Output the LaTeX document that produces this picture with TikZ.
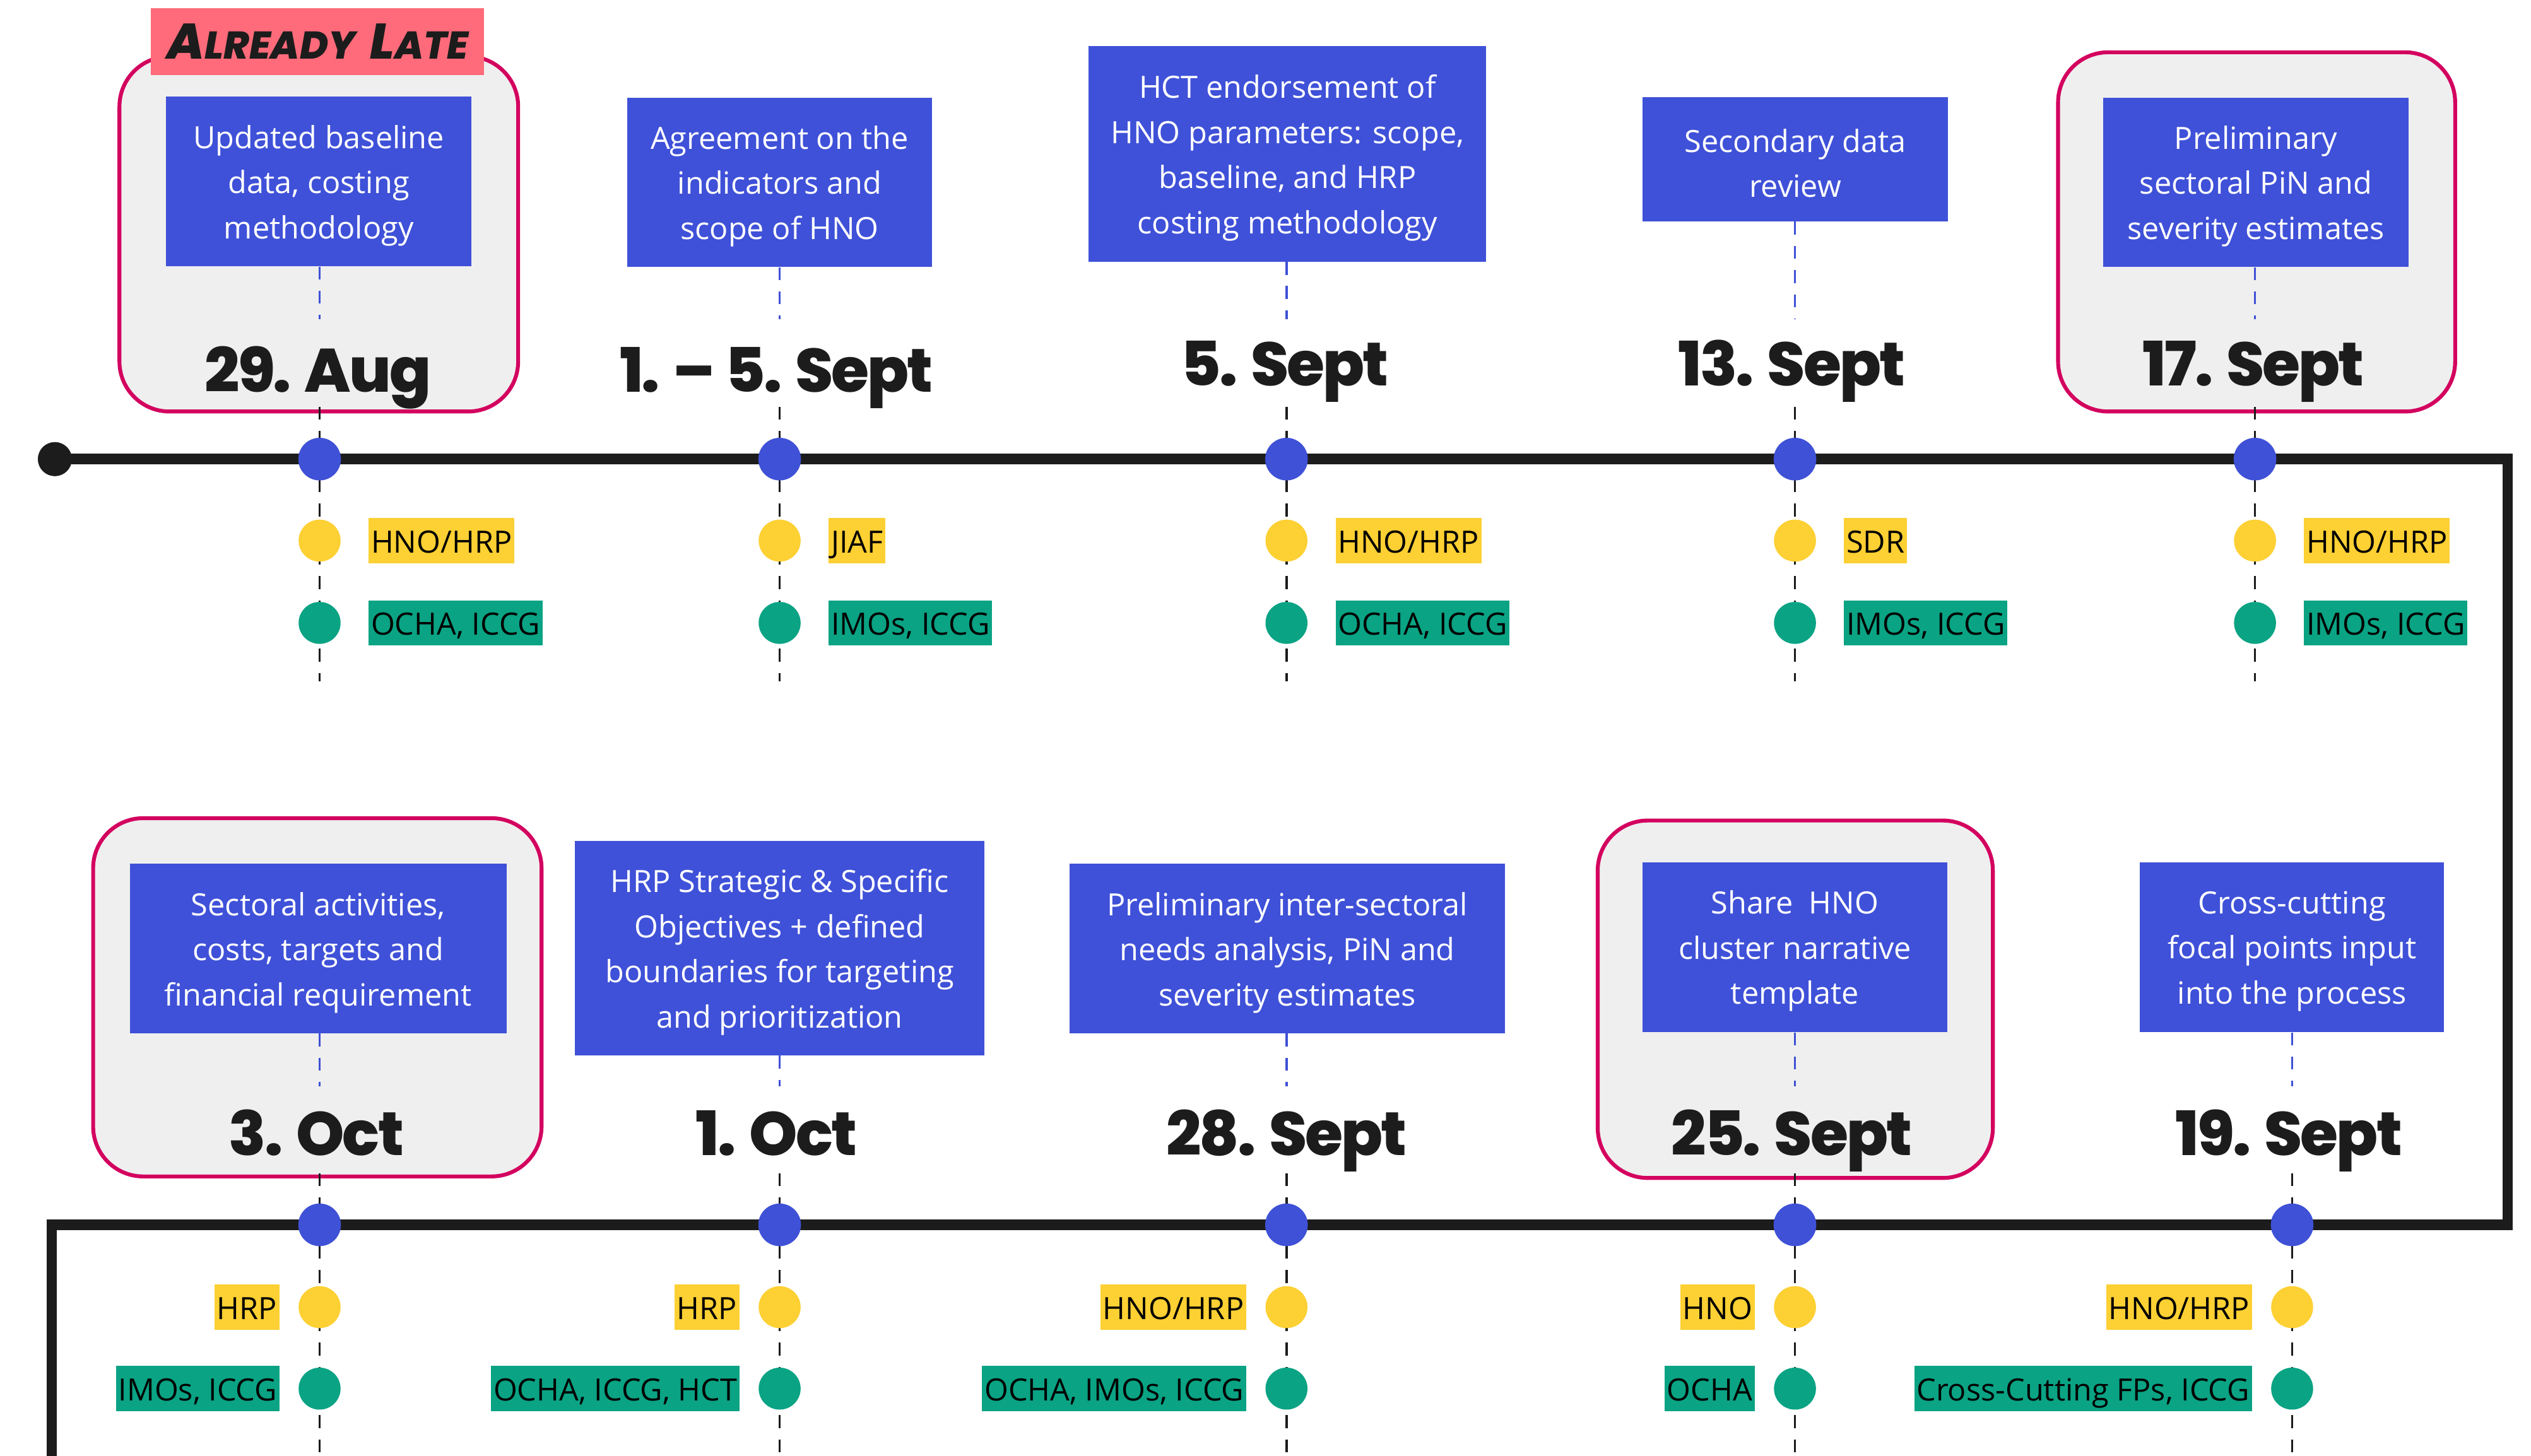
\documentclass[tikz,border=0pt]{standalone}
\usepackage{fontspec}
\usepackage{graphicx}
\setmainfont{Open Sans}
\newfontfamily\datefont{Poppins ExtraBold}[LetterSpace=-3]
\newfontfamily\tagfont{Poppins ExtraBold}
\definecolor{boxblue}{HTML}{3F51D8}
\definecolor{dotblue}{HTML}{3F51D6}
\definecolor{hlpink}{HTML}{D3025F}
\definecolor{hlgray}{HTML}{EFEFEF}
\definecolor{tagpink}{HTML}{FF6B7A}
\definecolor{ylw}{HTML}{FDD033}
\definecolor{grn}{HTML}{0AA384}
\definecolor{ink}{HTML}{1C1C1C}
\tikzset{
  evbox/.style={fill=boxblue, inner sep=0pt},
  evtext/.style={text=white, align=center, inner sep=0pt, yshift=-2.5pt,
    font=\fontsize{19}{28}\selectfont},
  hlbox/.style={fill=hlgray, draw=hlpink, line width=2.4pt, rounded corners=31pt, inner sep=0pt},
  tagbox/.style={fill=tagpink, inner sep=0pt, text=ink},
  datel/.style={anchor=base, text=ink, inner sep=0pt, font=\datefont\fontsize{38}{38}\selectfont},
  ylab/.style={fill=ylw, text=black, inner xsep=1.5pt, inner ysep=0pt, text height=21.5pt, text depth=6.5pt,
    font=\fontsize{19}{19}\selectfont},
  glab/.style={ylab, fill=grn},
  tline/.style={draw=ink, line width=6.5pt, miter limit=10},
  blkdash/.style={draw=ink, line width=1.4pt, dash pattern=on 8pt off 7pt},
  bluedash/.style={draw=dotblue, line width=1.4pt, dash pattern=on 8pt off 7pt},
  bdot/.style={circle, fill=dotblue, minimum size=26.4pt, inner sep=0pt},
  ydot/.style={circle, fill=ylw, minimum size=26pt, inner sep=0pt},
  gdot/.style={circle, fill=grn, minimum size=26pt, inner sep=0pt},
  sdot/.style={circle, fill=ink, minimum size=21pt, inner sep=0pt}
}
% top-row marks: #1 name, #2 x, #3 yellow text, #4 green text
\newcommand\evtopmarks[4]{%
  \coordinate (#1ds) at (#2,252);
  \coordinate (#1de) at (#2,422);
  \coordinate (#1be) at (#2,198);
  \draw[bluedash] (b#1.south -| #1ds) -- (#1be);
  \draw[blkdash] (#1ds) -- (#1de);
  \node[bdot] (p#1) at (#2,284.5) {};
  \node[ydot] (y#1) at (#2,335) {};
  \node[gdot] (g#1) at (#2,386) {};
  \node[ylab, anchor=west] (ly#1) at ([xshift=17pt]y#1.center -| y#1.east) {#3};
  \node[glab, anchor=west] (lg#1) at ([xshift=17pt]g#1.center -| g#1.east) {#4};
}
\newcommand\evbotmarks[4]{%
  \coordinate (#1ds) at (#2,727);
  \coordinate (#1de) at (#2,902);
  \coordinate (#1be) at (#2,673);
  \draw[bluedash] (b#1.south -| #1ds) -- (#1be);
  \draw[blkdash] (#1ds) -- (#1de);
  \node[bdot] (p#1) at (#2,759) {};
  \node[ydot] (y#1) at (#2,810) {};
  \node[gdot] (g#1) at (#2,860.5) {};
  \node[ylab, anchor=east] (ly#1) at ([xshift=-11.5pt]y#1.center -| y#1.west) {#3};
  \node[glab, anchor=east] (lg#1) at ([xshift=-11.5pt]g#1.center -| g#1.west) {#4};
}
% event box: #1 name, #2 centre, #3 width, #4 height, #5 text
\newcommand\evboxat[5]{%
  \node[evbox, minimum width=#3pt, minimum height=#4pt] (b#1) at #2 {};
  \node[evtext] (t#1) at (b#1.center) {#5};
}
\begin{document}
\begin{tikzpicture}[x=1pt,y=-1pt]
\useasboundingbox[fill=white] (0,0) rectangle (1568,902);

% highlight frames
\node[hlbox, minimum width=247pt, minimum height=220pt] (hA) at (197.5,145) {};
\node[hlbox, minimum width=246pt, minimum height=222.6pt] (hE) at (1398,143.7) {};
\node[hlbox, minimum width=277.8pt, minimum height=222pt] (hF) at (196.6,618) {};
\node[hlbox, minimum width=244.8pt, minimum height=221.5pt] (hI) at (1112.2,619.2) {};

% tag
\node[tagbox, minimum width=206.4pt, minimum height=41.7pt] (tag) at (196.8,25.8)
  {\tagfont\itshape\fontsize{31}{31}\selectfont A\fontsize{24}{24}\selectfont LREADY\hspace{9pt}\fontsize{31}{31}\selectfont L\fontsize{24}{24}\selectfont ATE};

% event boxes, top row
\evboxat{A}{(197.5,112.5)}{189}{105}{Updated baseline\\data, costing\\methodology}
\evboxat{B}{(483,112.9)}{189}{105}{Agreement on the\\indicators and\\scope of HNO}
\evboxat{C}{(797.6,95.3)}{246.4}{133.5}{HCT endorsement of\\HNO parameters: scope,\\baseline, and HRP\\costing methodology}
\evboxat{D}{(1112.2,98.7)}{189}{77}{Secondary data\\review}
\evboxat{E}{(1397.6,112.9)}{189}{105}{Preliminary\\sectoral PiN and\\severity estimates}
% event boxes, bottom row
\evboxat{F}{(197.1,587.8)}{233.4}{105}{Sectoral activities,\\costs, targets and\\financial requirement}
\evboxat{G}{(483,587.5)}{254}{133}{HRP Strategic \& Specific\\Objectives + defined\\boundaries for targeting\\and prioritization}
\evboxat{H}{(797.5,587.8)}{270}{105}{Preliminary inter-sectoral\\needs analysis, PiN and\\severity estimates}
\evboxat{I}{(1112,586.9)}{188.6}{105.3}{Share~ HNO\\cluster narrative\\template}
\evboxat{J}{(1419.9,586.9)}{188.3}{105.3}{Cross-cutting\\focal points input\\into the process}

% dates
\node[datel] (dA) at (197,243) {29. Aug};
\node[datel] (dB) at (481,243) {1. – 5. Sept};
\node[datel] (dC) at (796,239) {5. Sept};
\node[datel] (dD) at (1110,239) {13. Sept};
\node[datel] (dE) at (1396,239) {17. Sept};
\node[datel] (dF) at (196,716) {3. Oct};
\node[datel] (dG) at (481,716) {1. Oct};
\node[datel] (dH) at (797,716) {28. Sept};
\node[datel] (dI) at (1110,716) {25. Sept};
\node[datel] (dJ) at (1418,716) {19. Sept};

% timeline
\node[sdot] (start) at (34,284.5) {};
\coordinate (c1) at (1553.5,284.5);
\coordinate (c2) at (1553.5,759);
\coordinate (c3) at (32,759);
\coordinate (c4) at (32,905);
\draw[tline] (start.center) -- (c1) -- (c2) -- (c3) -- (c4);
\node[sdot] at (start) {};

% marks
\evtopmarks{A}{198}{HNO/HRP}{OCHA, ICCG}
\evtopmarks{B}{483}{JIAF}{IMOs, ICCG}
\evtopmarks{C}{797}{HNO/HRP}{OCHA, ICCG}
\evtopmarks{D}{1112}{SDR}{IMOs, ICCG}
\evtopmarks{E}{1397}{HNO/HRP}{IMOs, ICCG}
\evbotmarks{F}{198}{HRP}{IMOs, ICCG}
\evbotmarks{G}{483}{HRP}{OCHA, ICCG, HCT}
\evbotmarks{H}{797}{HNO/HRP}{OCHA, IMOs, ICCG}
\evbotmarks{I}{1112}{HNO}{OCHA}
\evbotmarks{J}{1420}{HNO/HRP}{Cross-Cutting FPs, ICCG}
\end{tikzpicture}
\end{document}
